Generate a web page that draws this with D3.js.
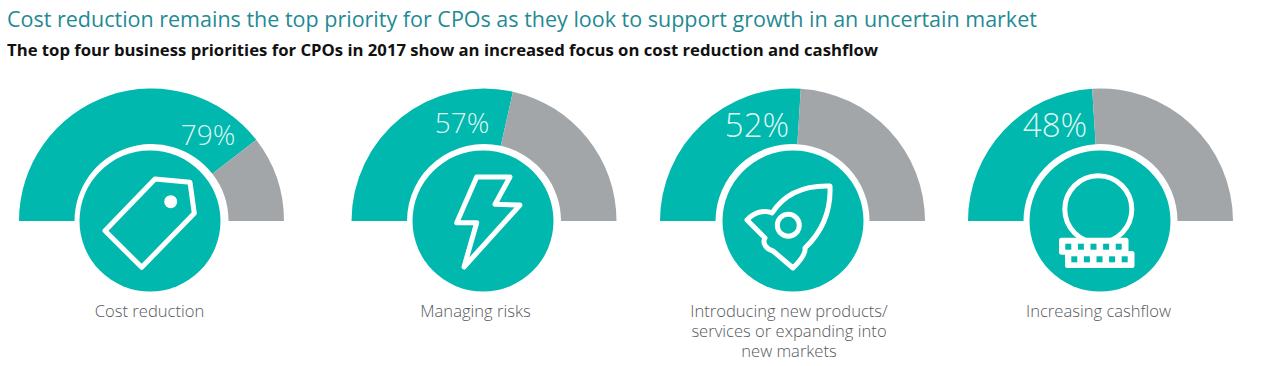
<!DOCTYPE html>
<html>
<head>
<meta charset="utf-8">
<script src="https://cdn.jsdelivr.net/npm/d3@7"></script>
<style>
    html, body { margin: 0; padding: 0; background: #fff; overflow: hidden; }
    text { font-family: "Open Sans", sans-serif; }
</style>
</head>
<body>
<svg id="chart" width="1280" height="366"></svg>
<script>
const title = "Cost reduction remains the top priority for CPOs as they look to support growth in an uncertain market"
const subtitle = "The top four business priorities for CPOs in 2017 show an increased focus on cost reduction and cashflow"
const categories = [
    ["Cost reduction"],
    ["Managing risks"],
    ["Introducing new products/", "services or expanding into", "new markets"],
    ["Increasing cashflow"],
]
const values = [79, 57, 52, 48]
const icons = ["tag", "bolt", "rocket", "coins"]

const teal = "#00b8ad"
const grey = "#a3a6a8"
const ink = "#56595d"

// layout of each gauge
const centersX = [151.5, 484, 792.5, 1100.5]
const circlesX = [150, 483, 793, 1100]
const labelsX = [149.5, 475.5, 789, 1098.5]
const pctX = [208, 462, 757, 1055]
const pctY = [145, 133, 137, 137]
const pctSize = [28, 28, 33, 33]

const baseY = 221
const outerR = 132.5
const innerR = 77
const circleR = 70.5

const svg = d3.select("#chart")

svg.append("text").attr("x", 7).attr("y", 27)
    .attr("font-size", 21.5).attr("fill", "#1f8a94")
    .text(title)
svg.append("text").attr("x", 7).attr("y", 56)
    .attr("font-size", 16.7).attr("font-weight", 700).attr("fill", "#111")
    .text(subtitle)

// value to angle along the half circle
let scAngle = d3.scaleLinear().domain([0, 100]).range([-Math.PI / 2, Math.PI / 2])
let arcMkr = d3.arc().innerRadius(innerR).outerRadius(outerR)

function drawIcon(g, name) {
    let line = d3.line()
    let outline = function (sel) {
        return sel.attr("fill", "none").attr("stroke", "#fff")
            .attr("stroke-width", 5).attr("stroke-linejoin", "round")
    }
    if (name == "tag") {
        g.append("path").call(outline)
            .attr("d", line([[5, -42], [40, -38.7], [44.3, -7.7], [-8.3, 46.3], [-45, 9.7]]) + "Z")
        g.append("circle").attr("cx", 20.7).attr("cy", -19.3).attr("r", 6.5).attr("fill", "#fff")
    }
    if (name == "bolt") {
        g.append("path").call(outline)
            .attr("d", line([[-6.3, -44], [27, -44], [12, -16.7], [37, -16], [-19, 46], [-6.3, 1.7], [-26.3, 1.7]]) + "Z")
    }
    if (name == "rocket") {
        g.append("path").call(outline)
            .attr("d", "M37,-35C5,-36,-12,-22,-21,-8C-27,-11,-38,-10,-46,-1L-28,17C-31,22,-27,28,-20,30L0,47C8,39,13,32,12,27C30,10,38,-10,37,-35Z")
        g.append("circle").call(outline).attr("cx", -4.7).attr("cy", 4.3).attr("r", 11)
    }
    if (name == "coins") {
        g.append("circle").call(outline).attr("cx", -1.7).attr("cy", -11.7).attr("r", 33.5)
        let bars = [[-41, 16.7, -31.7, 25.7], [-35, 30, -25.7, 38.3]]
        bars.forEach(b => {
            g.append("rect").attr("x", b[0]).attr("y", b[1])
                .attr("width", 69.5).attr("height", 17).attr("rx", 2.5).attr("fill", "#fff")
        })
        bars.forEach(b => {
            g.selectAll(null).data(d3.range(5)).enter().append("rect")
                .attr("x", i => b[2] + i * 12.6 - 3).attr("y", b[3] - 3)
                .attr("width", 6).attr("height", 6).attr("fill", teal)
        })
    }
}

values.forEach((value, i) => {
    let g = svg.append("g").attr("transform", `translate(${centersX[i]},${baseY})`)
    g.append("path").attr("fill", teal)
        .attr("d", arcMkr({ startAngle: scAngle(0), endAngle: scAngle(value) }))
    g.append("path").attr("fill", grey)
        .attr("d", arcMkr({ startAngle: scAngle(value), endAngle: scAngle(100) }))

    let badge = svg.append("g").attr("transform", `translate(${circlesX[i]},${baseY})`)
    badge.append("circle").attr("r", circleR).attr("fill", teal)
    drawIcon(badge, icons[i])

    svg.append("text").attr("x", pctX[i]).attr("y", pctY[i])
        .attr("text-anchor", "middle").attr("font-size", pctSize[i])
        .attr("font-weight", 300).attr("fill", "#dff5f2")
        .text(value + "%")

    svg.append("g").selectAll("text").data(categories[i]).enter().append("text")
        .attr("x", labelsX[i]).attr("y", (d, k) => 316.5 + k * 20)
        .attr("text-anchor", "middle").attr("font-size", 16.6)
        .attr("font-weight", 300).attr("fill", ink)
        .text(d => d)
})
</script>
</body>
</html>
